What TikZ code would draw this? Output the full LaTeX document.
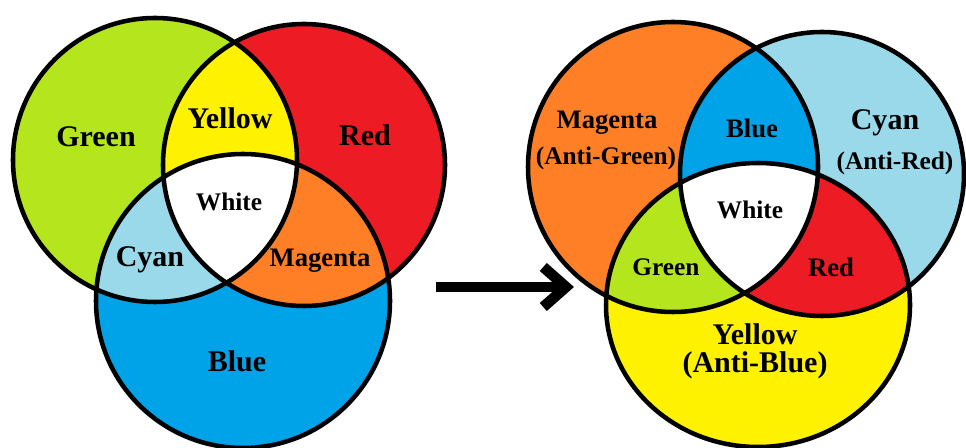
\documentclass[tikz,border=0pt]{standalone}
\usepackage{fontspec}
\setmainfont{Liberation Serif}
\usetikzlibrary{arrows.meta}
\definecolor{paintlime}{HTML}{B5E61D}
\definecolor{paintred}{HTML}{ED1C24}
\definecolor{paintblue}{HTML}{00A2E8}
\definecolor{paintcyan}{HTML}{99D9EA}
\definecolor{paintyellow}{HTML}{FFF200}
\definecolor{paintorange}{HTML}{FF7F27}

\begin{document}
\begin{tikzpicture}[x=0.75pt,y=0.75pt,yscale=-1,xscale=1,
  ring/.style={line width=3.4pt},
  big/.style={inner sep=0pt,font=\bfseries\fontsize{22.5}{24}\selectfont},
  mid/.style={inner sep=0pt,font=\bfseries\fontsize{20}{22}\selectfont},
  small/.style={inner sep=0pt,font=\bfseries\fontsize{19}{21}\selectfont}]
\useasboundingbox (0,0) rectangle (966,448);

%Left diagram: circle centres
\coordinate (gC) at (155,160);
\coordinate (rC) at (304,165);
\coordinate (bC) at (243,301);

%Circles [left]
\fill[paintlime] (gC) circle (142);
\fill[paintred] (rC) circle (141);
\fill[paintblue] (bC) circle (147);
%Overlap red/blue
\begin{scope}
\clip (rC) circle (141);
\fill[paintorange] (bC) circle (147);
\end{scope}
%Overlaps with green
\begin{scope}
\clip (gC) circle (142);
\fill[paintyellow] (rC) circle (141);
\fill[paintcyan] (bC) circle (147);
\clip (rC) circle (141);
\fill[white] (bC) circle (147);
\end{scope}
%Outlines [left]
\draw[ring] (gC) circle (142);
\draw[ring] (rC) circle (141);
\draw[ring] (bC) circle (147);

%Right diagram: circle centres
\coordinate (mC) at (673,167);
\coordinate (cC) at (822,174);
\coordinate (yC) at (758,305);

%Circles [right]
\fill[paintorange] (mC) circle (145);
\fill[paintcyan] (cC) circle (142);
\fill[paintyellow] (yC) ellipse (152 and 142);
%Overlap cyan/yellow
\begin{scope}
\clip (cC) circle (142);
\fill[paintred] (yC) ellipse (152 and 142);
\end{scope}
%Overlaps with magenta
\begin{scope}
\clip (mC) circle (145);
\fill[paintblue] (cC) circle (142);
\fill[paintlime] (yC) ellipse (152 and 142);
\clip (cC) circle (142);
\fill[white] (yC) ellipse (152 and 142);
\end{scope}
%Outlines [right]
\draw[ring] (mC) circle (145);
\draw[ring] (cC) circle (142);
\draw[ring] (yC) ellipse (152 and 142);

%Arrow
\coordinate (arrS) at (436,287);
\coordinate (arrE) at (574,287);
\draw[line width=8pt,-{Straight Barb[length=17pt,width=30pt]}] (arrS) -- (arrE);

% Text Node
\node[big] (lGreen) at (96,137) {Green};
\node[big] (lYellow) at (230,118) {Yellow};
\node[big] (lRed) at (365,135) {Red};
\node[small] (lWhite) at (229,202) {White};
\node[big] (lCyan) at (150,260) {Cyan};
\node[mid] (lMagenta) at (320,261) {Magenta};
\node[big] (lBlue) at (237,361) {Blue};

% Text Node
\node[mid] (rMagenta) at (607,123) {Magenta};
\node[small] (rAntiGreen) at (606,158) {(Anti-Green)};
\node[mid] (rBlue) at (752,128) {Blue};
\node[big] (rCyan) at (885,123) {Cyan};
\node[small] (rAntiRed) at (895,163) {(Anti-Red)};
\node[small] (rWhite) at (750,210) {White};
\node[small] (rGreen) at (666,267) {Green};
\node[mid] (rRed) at (831,267) {Red};
\node[align=center,inner sep=0pt,font=\bfseries\fontsize{22.5}{21}\selectfont] (rYellow) at (755,351) {Yellow\\(Anti-Blue)};

\end{tikzpicture}
\end{document}
